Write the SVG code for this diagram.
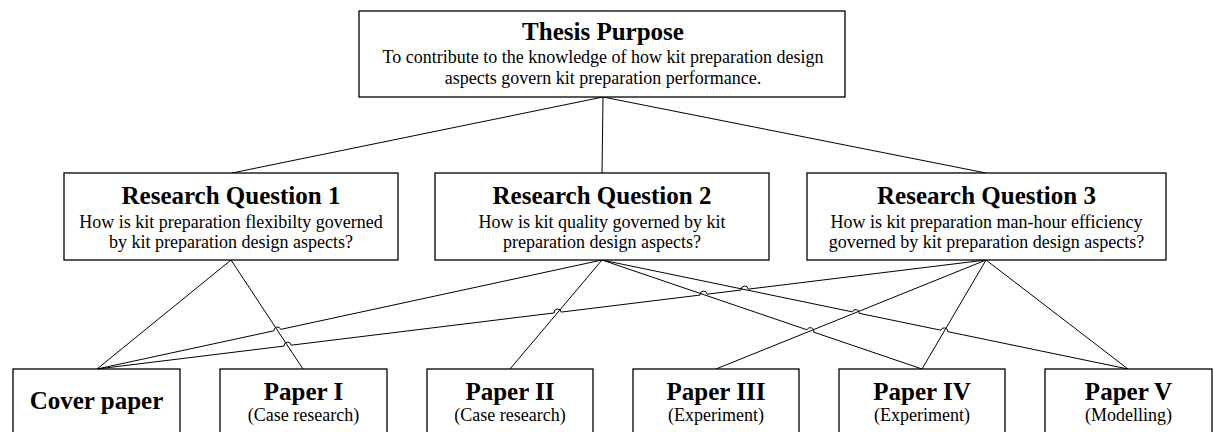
<svg xmlns="http://www.w3.org/2000/svg" width="1213" height="432" viewBox="0 0 1213 432">
<style>
.box{fill:#fff;stroke:#000;stroke-width:1.3}
.con{fill:none;stroke:#000;stroke-width:1}
text{font-family:"Liberation Serif","Times New Roman",serif;fill:#000;text-anchor:middle}
.t{font-size:25px;font-weight:bold}
.s{font-size:18px}
</style>
<g id="connectors" class="con">
<path d="M603,97 L232,173"/>
<path d="M603,97 L602,173"/>
<path d="M603,97 L986,173"/>
<path d="M231,260 L97,369"/>
<path d="M231,260 L303,369"/>
<path d="M97,369 L273.9,330.8 A3.5,3.5 0 0 1 280.7,329.4 L602,260"/>
<path d="M97,369 L284.1,346.06 A3.5,3.5 0 0 1 291.1,345.2 L554.2,312.94 A3.5,3.5 0 0 1 561.2,312.08 L700.1,295.05 A3.5,3.5 0 0 1 707.1,294.19 L741.2,290.01 A3.5,3.5 0 0 1 748.2,289.15 L986,260"/>
<path d="M602,260 L510,369"/>
<path d="M602,260 L807,329.8 A3.5,3.5 0 0 1 813.6,332.1 L922,369"/>
<path d="M602,260 L852.4,311.88 A3.5,3.5 0 0 1 859.2,313.3 L940.9,330.22 A3.5,3.5 0 0 1 947.7,331.64 L1128,369"/>
<path d="M986,260 L716,369"/>
<path d="M986,260 L922,369"/>
<path d="M986,260 L1128,369"/>
</g>
<g id="thesis">
<rect class="box" x="359" y="11" width="486" height="86"/>
<text class="t" x="603" y="40">Thesis Purpose</text>
<text class="s" x="603" y="63">To contribute to the knowledge of how kit preparation design</text>
<text class="s" x="603" y="84">aspects govern kit preparation performance.</text>
</g>
<g id="rq1">
<rect class="box" x="64" y="173" width="334" height="87"/>
<text class="t" x="231" y="204">Research Question 1</text>
<text class="s" x="231" y="227.5">How is kit preparation flexibilty governed</text>
<text class="s" x="231" y="248.3">by kit preparation design aspects?</text>
</g>
<g id="rq2">
<rect class="box" x="435" y="173" width="334" height="87"/>
<text class="t" x="602" y="204">Research Question 2</text>
<text class="s" x="602" y="227.5">How is kit quality governed by kit</text>
<text class="s" x="602" y="248.3">preparation design aspects?</text>
</g>
<g id="rq3">
<rect class="box" x="807" y="173" width="359" height="87"/>
<text class="t" x="986.5" y="204">Research Question 3</text>
<text class="s" x="986.5" y="227.5">How is kit preparation man-hour efficiency</text>
<text class="s" x="986.5" y="248.3">governed by kit preparation design aspects?</text>
</g>
<g id="cover">
<rect class="box" x="13" y="369" width="167" height="80"/>
<text class="t" x="96.5" y="409">Cover paper</text>
</g>
<g id="paper1">
<rect class="box" x="220" y="369" width="167" height="80"/>
<text class="t" x="303.5" y="400">Paper I</text>
<text class="s" x="303.5" y="421">(Case research)</text>
</g>
<g id="paper2">
<rect class="box" x="427" y="369" width="166" height="80"/>
<text class="t" x="510" y="400">Paper II</text>
<text class="s" x="510" y="421">(Case research)</text>
</g>
<g id="paper3">
<rect class="box" x="633" y="369" width="166" height="80"/>
<text class="t" x="716" y="400">Paper III</text>
<text class="s" x="716" y="421">(Experiment)</text>
</g>
<g id="paper4">
<rect class="box" x="839" y="369" width="166" height="80"/>
<text class="t" x="922" y="400">Paper IV</text>
<text class="s" x="922" y="421">(Experiment)</text>
</g>
<g id="paper5">
<rect class="box" x="1045" y="369" width="167" height="80"/>
<text class="t" x="1128.5" y="400">Paper V</text>
<text class="s" x="1128.5" y="421">(Modelling)</text>
</g>
</svg>
